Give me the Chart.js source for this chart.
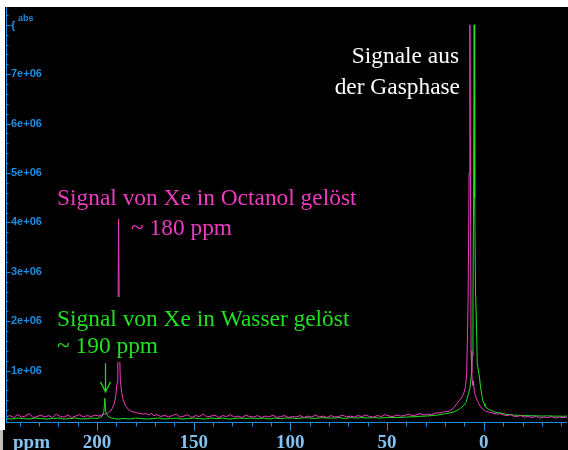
<!DOCTYPE html>
<html>
<head>
<meta charset="utf-8">
<script src="https://cdn.jsdelivr.net/npm/chart.js@4.4.1/dist/chart.umd.min.js"></script>
<style>
  html, body { margin: 0; padding: 0; background: #fff; }
  canvas { display: block; }
</style>
</head>
<body>
<canvas id="spektrum" width="568" height="450"></canvas>
<script>
// 129Xe-Spektren: Xe in Octanol (magenta) und Xe in Wasser (gruen), Intensitaet in 1e6
const octanolPpm = [247, 245, 243, 241, 239, 237, 235, 233, 231, 229, 227, 225, 223, 221, 219, 217, 215, 213, 211, 209, 207, 205, 203, 201, 199, 197.5, 196, 195, 194, 193, 192, 191.2, 190.3, 189.6, 189.2, 188.8, 188.3, 187.9, 187.2, 186.5, 185.6, 184.5, 183.2, 181.9, 180.5, 179, 177.5, 176, 174.5, 173, 172, 170.5, 169, 167, 165, 163, 161, 159, 157, 155, 153, 151, 149, 147, 145, 143, 141, 139, 137, 135, 133, 131, 129, 127, 125, 123, 121, 119, 117, 115, 113, 111, 109, 107, 105, 103, 101, 99, 97, 95, 93, 91, 89, 87, 85, 83, 81, 79, 77, 75, 73, 71, 69, 67, 65, 63, 61, 59, 57, 55, 53, 51, 49, 47, 45, 43, 41, 39, 37, 35, 33, 31, 29, 27, 25, 23, 21.5, 20, 18.5, 17.2, 15.5, 13.8, 12.5, 11.2, 10.3, 9.5, 8.9, 8.6, 8.1, 7.6, 7.2, 6.9, 6.6, 6.2, 6.0, 5.6, 5.3, 5.0, 4.4, 3.4, 2.6, 1.7, 0.6, -0.9, -2.5, -4, -5.2, -7, -8.5, -10.3, -12, -14, -15.5, -17, -19, -21, -23, -25, -27, -29, -31, -33, -35, -37, -39, -41, -43];
const octanolAbs = [0.06, 0.09, 0.05, 0.11, 0.06, 0.08, 0.13, 0.05, 0.07, 0.10, 0.06, 0.09, 0.05, 0.12, 0.07, 0.06, 0.10, 0.05, 0.08, 0.11, 0.06, 0.09, 0.07, 0.10, 0.08, 0.10, 0.12, 0.13, 0.15, 0.18, 0.24, 0.32, 0.47, 0.75, 1.5, 4.07, 1.4, 0.8, 0.55, 0.42, 0.32, 0.25, 0.20, 0.17, 0.16, 0.14, 0.13, 0.12, 0.13, 0.10, 0.14, 0.09, 0.11, 0.07, 0.10, 0.06, 0.09, 0.12, 0.06, 0.08, 0.11, 0.05, 0.09, 0.07, 0.12, 0.06, 0.08, 0.10, 0.05, 0.09, 0.07, 0.11, 0.06, 0.08, 0.05, 0.10, 0.07, 0.06, 0.09, 0.05, 0.08, 0.06, 0.10, 0.05, 0.07, 0.09, 0.05, 0.07, 0.06, 0.09, 0.05, 0.08, 0.06, 0.10, 0.06, 0.08, 0.05, 0.09, 0.06, 0.07, 0.10, 0.06, 0.08, 0.06, 0.09, 0.07, 0.10, 0.07, 0.06, 0.09, 0.07, 0.11, 0.08, 0.07, 0.10, 0.08, 0.09, 0.12, 0.09, 0.10, 0.13, 0.10, 0.12, 0.11, 0.14, 0.15, 0.15, 0.18, 0.17, 0.20, 0.25, 0.34, 0.40, 0.47, 0.55, 0.67, 0.90, 1.4, 2.5, 5.0, 8.0, 5.0, 1.4, 0.95, 0.80, 0.70, 0.78, 0.60, 0.50, 0.40, 0.33, 0.27, 0.22, 0.18, 0.16, 0.15, 0.135, 0.12, 0.13, 0.10, 0.09, 0.11, 0.075, 0.07, 0.09, 0.06, 0.07, 0.05, 0.08, 0.04, 0.06, 0.05, 0.07, 0.04, 0.06, 0.05, 0.06];

const wasserPpm = [247, 244, 241, 238, 235, 232, 229, 226, 223, 220, 217, 214, 211, 208, 205, 202, 200, 198.5, 197.2, 196.4, 195.9, 195.4, 194.6, 193.6, 192.5, 191, 189, 186, 183, 180, 177, 174, 171, 168, 165, 162, 159, 156, 153, 150, 147, 144, 141, 138, 135, 132, 129, 126, 123, 120, 117, 114, 111, 108, 105, 102, 99, 96, 93, 90, 87, 84, 81, 78, 75, 72, 69, 66, 63, 60, 57, 54, 50, 45, 40, 35, 30, 27, 24, 21, 19, 17, 15, 13.5, 12, 10.3, 9.2, 8.6, 7.8, 7.2, 6.5, 6.0, 5.6, 5.3, 5.0, 4.7, 4.3, 3.9, 3.4, 2.2, 1.7, 0.8, 0.1, -0.4, -0.6, -1.5, -3.4, -5, -6.9, -9, -11, -13, -15.5, -18, -21, -24, -27, -30, -33, -36, -39, -41, -43];
const wasserAbs = [0.03, 0.02, 0.04, 0.03, 0.02, 0.04, 0.03, 0.02, 0.03, 0.04, 0.02, 0.03, 0.04, 0.02, 0.03, 0.04, 0.03, 0.05, 0.08, 0.17, 0.44, 0.16, 0.09, 0.06, 0.04, 0.03, 0.02, 0.03, 0.02, 0.04, 0.03, 0.02, 0.03, 0.04, 0.02, 0.03, 0.04, 0.02, 0.03, 0.04, 0.03, 0.02, 0.04, 0.03, 0.04, 0.02, 0.03, 0.04, 0.03, 0.04, 0.03, 0.04, 0.02, 0.04, 0.03, 0.04, 0.04, 0.03, 0.05, 0.04, 0.03, 0.05, 0.04, 0.04, 0.05, 0.03, 0.05, 0.04, 0.05, 0.04, 0.05, 0.04, 0.05, 0.05, 0.06, 0.07, 0.08, 0.09, 0.10, 0.12, 0.135, 0.15, 0.17, 0.20, 0.24, 0.30, 0.36, 0.44, 0.55, 0.64, 0.88, 1.3, 2.4, 4.5, 8.0, 4.5, 2.6, 2.1, 1.15, 0.85, 0.67, 0.45, 0.34, 0.33, 0.28, 0.24, 0.20, 0.17, 0.15, 0.14, 0.12, 0.11, 0.10, 0.095, 0.09, 0.087, 0.085, 0.08, 0.085, 0.078, 0.08, 0.075, 0.08];

// Achsen
const xMajorTicks = [200, 150, 100, 50, 0];
const xTickLabels = ['200', '150', '100', '50', '0'];
const yTickValues = [1, 2, 3, 4, 5, 6, 7];
const yTickLabels = ['1e+06', '2e+06', '3e+06', '4e+06', '5e+06', '6e+06', '7e+06'];

const pink = '#ee3cc2';
const gruen = '#20e020';
const blau = '#1d8de2';

// Beschriftungen im Plot (Pixel)
const notes = [
    { text: 'Signale aus', x: 459, y: 63, align: 'right', color: '#ffffff' },
    { text: 'der Gasphase', x: 460, y: 94, align: 'right', color: '#ffffff' },
    { text: 'Signal von Xe in Octanol gelöst', x: 57, y: 205, align: 'left', color: pink },
    { text: '~ 180 ppm', x: 131, y: 235, align: 'left', color: pink },
    { text: 'Signal von Xe in Wasser gelöst', x: 57, y: 326, align: 'left', color: gruen },
    { text: '~ 190 ppm', x: 57, y: 353, align: 'left', color: gruen }
];
const arrowPpm = 195.8;
const arrowFrom = 1.15;
const arrowTo = 0.57;

function toPoints(xs, ys) {
    return xs.map((x, i) => ({ x: x, y: ys[i] }));
}

const spektrumDeko = {
    id: 'spektrumDeko',
    beforeDraw(chart) {
        const c = chart.ctx;
        c.save();
        c.fillStyle = '#000';
        c.fillRect(0, 0, chart.width, chart.height);
        c.fillStyle = '#fff';
        c.fillRect(0, 0, chart.width, 7);
        c.fillRect(0, 0, 5, 430);
        c.fillStyle = '#bdbdbd';
        c.fillRect(0, 430, 3, 20);
        c.restore();
    },
    afterDatasetsDraw(chart) {
        const c = chart.ctx;
        const xs = chart.scales.x, ys = chart.scales.y;
        c.save();
        c.font = '23.4px "Liberation Serif"';
        c.textBaseline = 'alphabetic';
        // erst die schwarzen Hintergruende, dann die Texte
        notes.forEach(n => {
            const w = c.measureText(n.text).width;
            const left = n.align === 'right' ? n.x - w : n.x;
            c.fillStyle = '#000';
            c.fillRect(left - 2, n.y - 29, w + 4, 38);
        });
        notes.forEach(n => {
            c.fillStyle = n.color;
            c.textAlign = n.align;
            c.fillText(n.text, n.x, n.y);
        });

        // Pfeil auf das Wasser-Signal
        const ax = Math.round(xs.getPixelForValue(arrowPpm)) + 0.5;
        const a0 = ys.getPixelForValue(arrowFrom);
        const a1 = ys.getPixelForValue(arrowTo);
        c.strokeStyle = gruen;
        c.lineWidth = 1.2;
        c.beginPath();
        c.moveTo(ax, a0);
        c.lineTo(ax, a1);
        c.moveTo(ax - 5, a1 - 10);
        c.lineTo(ax, a1);
        c.lineTo(ax + 5, a1 - 10);
        c.stroke();
        c.restore();
    },
    afterDraw(chart) {
        const c = chart.ctx;
        const area = chart.chartArea;
        const xs = chart.scales.x, ys = chart.scales.y;
        const axY = Math.round(area.bottom) + 0.5;
        const axX = Math.round(area.left) + 0.5;
        c.save();
        c.strokeStyle = blau;
        c.lineWidth = 1;
        c.beginPath();
        c.moveTo(area.left, axY);
        c.lineTo(area.right, axY);
        c.moveTo(axX, area.top);
        c.lineTo(axX, area.bottom);

        // x-Ticks alle 10 ppm, lang bei 50er Schritten
        for (let p = 240; p >= -40; p -= 10) {
            const px = Math.round(xs.getPixelForValue(p)) + 0.5;
            c.moveTo(px, axY);
            c.lineTo(px, axY + (p % 50 === 0 ? 8 : 4));
        }
        // y-Ticks alle 0.2e6
        for (let k = 1; k <= 41; k++) {
            const py = Math.round(ys.getPixelForValue(k * 0.2)) + 0.5;
            c.moveTo(axX, py);
            c.lineTo(axX + (k % 5 === 0 ? 4 : 2), py);
        }
        c.stroke();

        c.fillStyle = blau;
        c.font = 'bold 11px "Liberation Sans"';
        c.textAlign = 'left';
        c.textBaseline = 'middle';
        yTickValues.forEach((v, i) => {
            c.fillText(yTickLabels[i], axX + 4.5, ys.getPixelForValue(v));
        });
        c.fillText('{', axX + 4.5, ys.getPixelForValue(8) + 1);
        c.font = 'bold 9px "Liberation Sans"';
        c.fillText('abs', 18, 19);

        c.fillStyle = '#86c2f0';
        c.font = 'bold 19px "Liberation Serif"';
        c.textBaseline = 'alphabetic';
        c.textAlign = 'center';
        xMajorTicks.forEach((v, i) => {
            c.fillText(xTickLabels[i], xs.getPixelForValue(v), 448);
        });
        c.textAlign = 'left';
        c.fillText('ppm', 13, 448);
        c.restore();
    }
};

new Chart(document.getElementById('spektrum'), {
    type: 'line',
    data: {
        datasets: [
            {
                label: 'Xe in Octanol',
                data: toPoints(octanolPpm, octanolAbs),
                borderColor: pink,
                borderWidth: 1,
                pointRadius: 0,
                tension: 0
            },
            {
                label: 'Xe in Wasser',
                data: toPoints(wasserPpm, wasserAbs),
                borderColor: gruen,
                borderWidth: 1,
                pointRadius: 0,
                tension: 0
            }
        ]
    },
    options: {
        responsive: false,
        animation: false,
        devicePixelRatio: 1,
        layout: { padding: { left: 6, top: 7, right: 1, bottom: 28 } },
        plugins: { legend: { display: false }, tooltip: { enabled: false } },
        scales: {
            x: { type: 'linear', reverse: true, min: -43, max: 247, display: false },
            y: { type: 'linear', min: -0.04, max: 8.36, display: false }
        }
    },
    plugins: [spektrumDeko]
});
</script>
</body>
</html>
